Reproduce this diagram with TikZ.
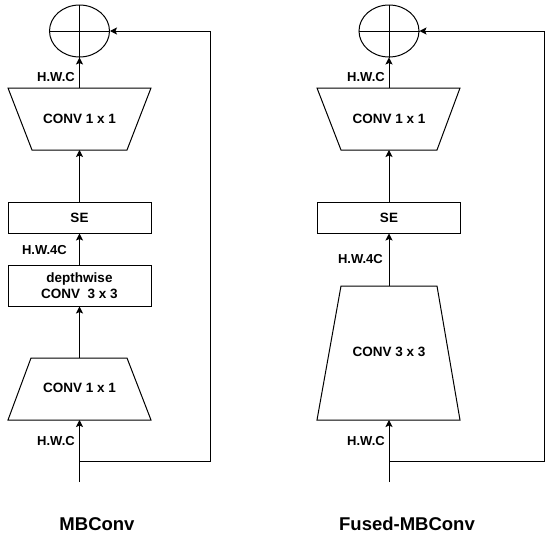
\documentclass[tikz,border=0pt]{standalone}
\usepackage{fontspec}
\setmainfont{Liberation Sans}
\usetikzlibrary{arrows.meta,shapes.geometric}
\tikzset{
  sum/.style  = {ellipse, draw, minimum width=60pt, minimum height=52pt,
                 inner sep=0pt, line width=1pt},
  blk/.style  = {draw, line width=1pt},
  box/.style  = {rectangle, draw, line width=1pt, minimum width=143pt,
                 align=center, inner sep=0pt,
                 font=\bfseries\fontsize{13.5}{16}\selectfont},
  txt/.style  = {inner sep=0pt, font=\bfseries\fontsize{13.5}{16}\selectfont},
  dim/.style  = {anchor=east, inner sep=0pt,
                 font=\bfseries\fontsize{13}{15}\selectfont},
  ttl/.style  = {inner sep=0pt, font=\bfseries\fontsize{18.5}{22}\selectfont},
  edg/.style  = {line width=1pt},
  arr/.style  = {edg, -{Stealth[length=7pt,width=7pt,inset=1.5pt]}},
}

\begin{document}
\begin{tikzpicture}[x=1pt,y=-1pt]
  \useasboundingbox (0,0) rectangle (550,536);

  % MBConv
  \node[sum] (sum1) at (79.5,31) {};
  \draw[edg] (sum1.north) -- (sum1.south) (sum1.west) -- (sum1.east);
  \draw[blk] (8,88) -- (151,88) -- (127,150) -- (32,150) -- cycle;
  \node[txt] (pw1) at (79.5,119) {CONV 1 x 1};
  \coordinate (pw1t) at (79.5,88);
  \coordinate (pw1b) at (79.5,150);
  \node[box, minimum height=31pt] (se1) at (79.5,217.5) {SE};
  \node[box, minimum height=41pt] (dw1) at (79.5,285.5) {depthwise\\CONV\ \ 3 x 3};
  \draw[blk] (31,358) -- (127,358) -- (151,420) -- (8,420) -- cycle;
  \node[txt] (ex1) at (79.5,388) {CONV 1 x 1};
  \coordinate (ex1t) at (79.5,358);
  \coordinate (ex1b) at (79.5,420);
  \coordinate (in1) at (79.5,482);
  \coordinate (br1) at (79.5,461);
  \coordinate (sk1) at (210,461);
  \coordinate (sk1t) at (210,31);
  \draw[arr] (pw1t) -- (sum1.south);
  \draw[arr] (se1.north) -- (pw1b);
  \draw[arr] (dw1.north) -- (se1.south);
  \draw[arr] (ex1t) -- (dw1.south);
  \draw[arr] (in1) -- (ex1b);
  \draw[arr] (br1) -- (sk1) -- (sk1t) -- (sum1.east);
  \node[dim] (d1a) at (75,77) {H.W.C};
  \node[dim] (d1b) at (67,250) {H.W.4C};
  \node[dim] (d1c) at (75,441) {H.W.C};
  \node[ttl] (t1) at (97,524) {MBConv};

  % Fused-MBConv
  \node[sum] (sum2) at (389,31) {};
  \draw[edg] (sum2.north) -- (sum2.south) (sum2.west) -- (sum2.east);
  \draw[blk] (317,88) -- (460,88) -- (437,150) -- (341,150) -- cycle;
  \node[txt] (pw2) at (389,119) {CONV 1 x 1};
  \coordinate (pw2t) at (389,88);
  \coordinate (pw2b) at (389,150);
  \node[box, minimum height=31pt] (se2) at (389,217.5) {SE};
  \draw[blk] (341,286) -- (437,286) -- (460,420) -- (317,420) -- cycle;
  \node[txt] (fu2) at (389,352) {CONV 3 x 3};
  \coordinate (fu2t) at (389,286);
  \coordinate (fu2b) at (389,420);
  \coordinate (in2) at (389,482);
  \coordinate (br2) at (389,461);
  \coordinate (sk2) at (544,461);
  \coordinate (sk2t) at (544,31);
  \draw[arr] (pw2t) -- (sum2.south);
  \draw[arr] (se2.north) -- (pw2b);
  \draw[arr] (fu2t) -- (se2.south);
  \draw[arr] (in2) -- (fu2b);
  \draw[arr] (br2) -- (sk2) -- (sk2t) -- (sum2.east);
  \node[dim] (d2a) at (385,77) {H.W.C};
  \node[dim] (d2b) at (383,259) {H.W.4C};
  \node[dim] (d2c) at (385,441) {H.W.C};
  \node[ttl] (t2) at (407,524) {Fused-MBConv};
\end{tikzpicture}
\end{document}
